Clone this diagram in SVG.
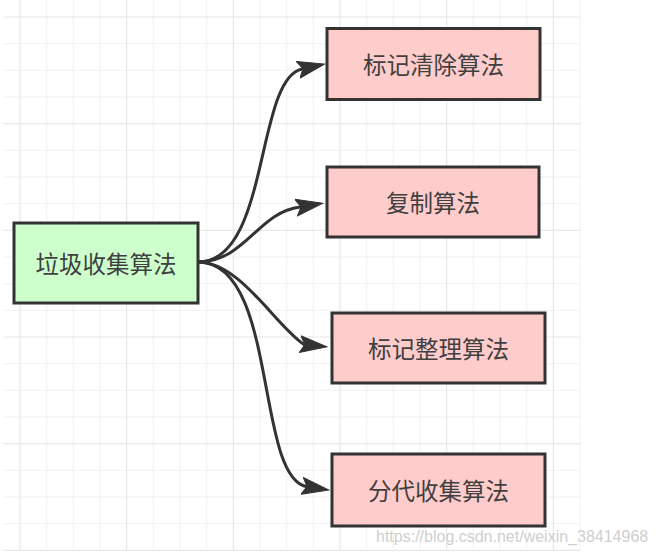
<svg xmlns="http://www.w3.org/2000/svg" width="657" height="555" viewBox="0 0 657 555">
  <style>
    .minor { stroke: #f1f1f1; stroke-width: 1; fill: none; }
    .major { stroke: #e8e8e8; stroke-width: 1.2; fill: none; }
    .box { stroke: #333333; stroke-width: 3; }
    .green { fill: #ccffcc; }
    .pink { fill: #ffcccc; }
    .label { font-family: "Noto Sans CJK SC", "Liberation Sans", sans-serif; font-size: 23.5px; fill: #404040; text-anchor: middle; dominant-baseline: central; }
    .edge { fill: none; stroke: #333333; stroke-width: 3; marker-end: url(#arrow); }
    .wm { font-family: "Liberation Sans", Arial, sans-serif; font-size: 16px; fill: #cfcfcf; }
  </style>
  <defs>
    <marker id="arrow" markerUnits="userSpaceOnUse" markerWidth="32" markerHeight="22" viewBox="0 -11 32 22" refX="5" refY="0" orient="auto">
      <path d="M0,-8.5 L27,0 L0,8.5 L5,0 Z" fill="#333333" stroke="#333333" stroke-width="1" stroke-linejoin="miter"/>
    </marker>
  </defs>
  <rect x="0" y="0" width="657" height="555" fill="#ffffff"/>
  <g id="grid">
    <path class="minor" d="M46.67,0V550.5M73.33,0V550.5M100,0V550.5M153.33,0V550.5M180,0V550.5M206.67,0V550.5M260,0V550.5M286.67,0V550.5M313.33,0V550.5M366.67,0V550.5M393.33,0V550.5M420,0V550.5M473.33,0V550.5M500,0V550.5M526.67,0V550.5M580,0V550.5M4,43.67H580M4,70.33H580M4,97H580M4,150.33H580M4,177H580M4,203.67H580M4,257H580M4,283.67H580M4,310.33H580M4,363.67H580M4,390.33H580M4,417H580M4,470.33H580M4,497H580M4,523.67H580"/>
    <path class="major" d="M20,0V550.5M126.67,0V550.5M233.33,0V550.5M340,0V550.5M446.67,0V550.5M553.33,0V550.5M4,17H580M4,123.67H580M4,230.33H580M4,337H580M4,443.67H580M4,550.33H580"/>
  </g>
  <g id="connectors">
    <path class="edge" d="M198,262 C270,262 255,79 302,69 l1,-0.22"/>
    <path class="edge" d="M198,262 C245,262 258,212 300,207 l1,-0.16"/>
    <path class="edge" d="M198,262 C240,262 275,325 304,344.5 l1,0.1"/>
    <path class="edge" d="M198,262 C278,262 255,475 306,486.5 l1,0.15"/>
  </g>
  <g id="node-gc">
    <rect class="box green" x="14" y="223" width="184" height="80"/>
    <text class="label" x="106" y="263">垃圾收集算法</text>
  </g>
  <g id="node-mark-sweep">
    <rect class="box pink" x="327" y="28.5" width="213" height="71"/>
    <text class="label" x="433.5" y="64">标记清除算法</text>
  </g>
  <g id="node-copy">
    <rect class="box pink" x="327" y="167" width="212" height="70"/>
    <text class="label" x="433" y="202">复制算法</text>
  </g>
  <g id="node-mark-compact">
    <rect class="box pink" x="332" y="313" width="213" height="70"/>
    <text class="label" x="438.5" y="348">标记整理算法</text>
  </g>
  <g id="node-generational">
    <rect class="box pink" x="332" y="454" width="213" height="72"/>
    <text class="label" x="438.5" y="490">分代收集算法</text>
  </g>
  <text class="wm" x="376" y="542">https://blog.csdn.net/weixin_38414968</text>
</svg>
